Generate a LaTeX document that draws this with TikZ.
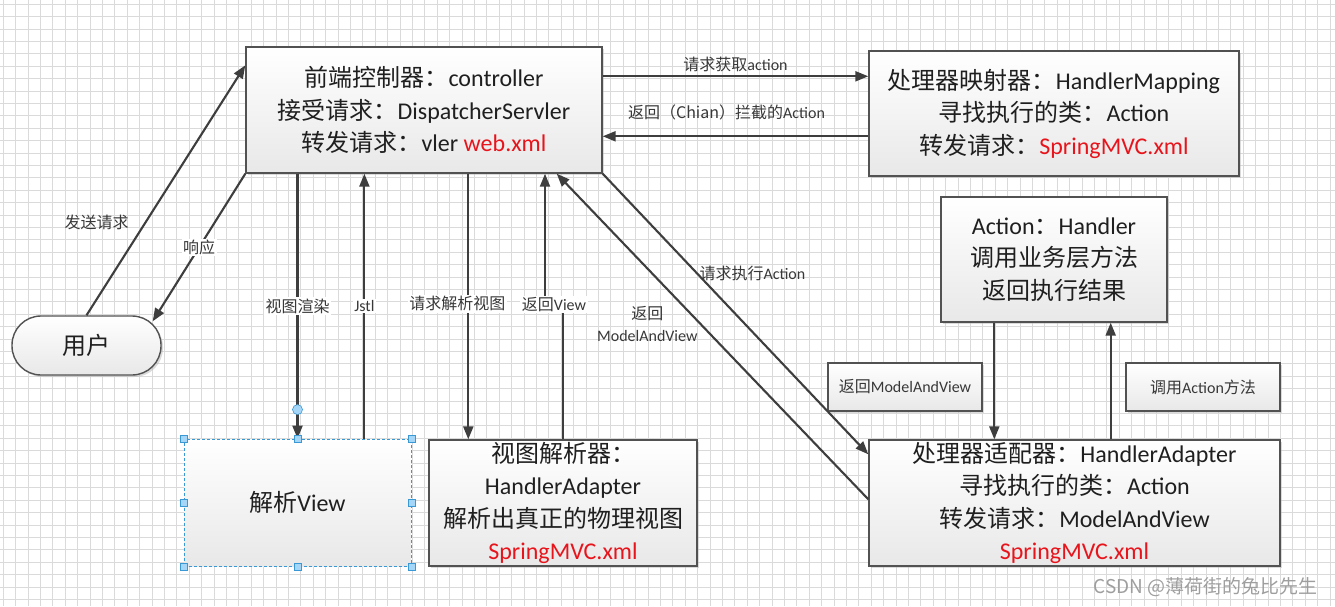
\documentclass[tikz,border=0pt]{standalone}
\usepackage{fontspec}
\setmainfont{Carlito}
\newfontfamily\cjk{Noto Sans CJK SC}
\usetikzlibrary{arrows.meta, shadows}

\newcommand{\zh}[1]{{\cjk #1}}
\definecolor{linegray}{HTML}{3E3E3E}
\definecolor{gridgray}{HTML}{DADADA}
\definecolor{selblue}{HTML}{3A98D4}
\definecolor{handleblue}{HTML}{A6D6F7}
\definecolor{xmlred}{HTML}{E8141C}

\begin{document}
\begin{tikzpicture}[x=1pt, y=-1pt, >={Triangle[length=13pt, width=10pt]},
	plain/.style={draw=black!68, line width=1.4pt, top color=white, bottom color=black!9,
		inner sep=0pt, align=center, text=black!88, font=\fontsize{24}{32.5}\selectfont},
	box/.style={plain, drop shadow={shadow xshift=2pt, shadow yshift=-2pt, fill=black!28}},
	tag/.style={box, line width=1.1pt, text=black!78, font=\fontsize{16}{20}\selectfont,
		minimum width=154pt, minimum height=48pt},
	flow/.style={draw=linegray, line width=2.1pt, ->},
	lbl/.style={fill=white, inner sep=1.5pt, text=black!78, font=\fontsize{16}{19}\selectfont},
	handle/.style={draw=selblue, fill=handleblue, line width=0.6pt, minimum size=7pt, inner sep=0pt}]

	\useasboundingbox (0,0) rectangle (1335,606);
	\fill[white] (0,0) rectangle (1335,606);
	\foreach \gx in {3,15.4,...,1335} \draw[gridgray, line width=0.6pt] (\gx,0) -- (\gx,606);
	\foreach \gy in {4,16.4,...,606} \draw[gridgray, line width=0.6pt] (0,\gy) -- (1335,\gy);

	\node[box, minimum width=356pt, minimum height=126pt] (fc) at (424,110)
		{\zh{前端控制器：}controller\\ \zh{接受请求：}DispatcherServler\\ \zh{转发请求：}vler \textcolor{xmlred}{web.xml}};
	\node[box, minimum width=370pt, minimum height=125pt] (hm) at (1054,113.5)
		{\zh{处理器映射器：}HandlerMapping\\ \zh{寻找执行的类：}Action\\ \zh{转发请求：}\textcolor{xmlred}{SpringMVC.xml}};
	\node[box, minimum width=226pt, minimum height=125pt] (act) at (1054,259.5)
		{Action\zh{：}Handler\\ \zh{调用业务层方法}\\ \zh{返回执行结果}};
	\node[box, minimum width=411pt, minimum height=126pt] (ha) at (1074.5,503)
		{\zh{处理器适配器：}HandlerAdapter\\ \zh{寻找执行的类：}Action\\ \zh{转发请求：}ModelAndView\\ \textcolor{xmlred}{SpringMVC.xml}};
	\node[box, minimum width=268pt, minimum height=126pt] (vr) at (563,503)
		{\zh{视图解析器：}\\ HandlerAdapter\\ \zh{解析出真正的物理视图}\\ \textcolor{xmlred}{SpringMVC.xml}};
	\node[plain, draw=selblue, line width=0.8pt, dash pattern=on 3pt off 2pt,
		minimum width=227pt, minimum height=127pt] (pv) at (297.5,502.5) {\zh{解析}View};
	\node[box, rounded corners=29pt, minimum width=149pt, minimum height=59pt] (user) at (86.5,345.5) {\zh{用户}};

	\node[tag] (tagmv) at (905,387) {\zh{返回}ModelAndView};
	\node[tag] (tagcall) at (1203,387) {\zh{调用}Action\zh{方法}};

	\coordinate (reqa) at ([yshift=-30pt]fc.north east);
	\coordinate (back) at ([yshift=-86pt]hm.north west);
	\coordinate (jstlb) at ([xshift=-47pt]pv.north east);
	\coordinate (askb) at ([xshift=40pt]vr.north west);
	\coordinate (viewt) at ([xshift=-18pt]vr.north);
	\coordinate (mvt) at ([xshift=-46pt]fc.south east);
	\coordinate (actl) at ([xshift=54pt]act.south west);
	\coordinate (callb) at ([xshift=-57pt]act.south east);

	\draw[flow] (user.north) -- node[lbl, fill=none, pos=0.37, left=14pt] {\zh{发送请求}} ([yshift=-19pt]fc.north west);
	\draw[flow] (fc.south west) -- node[lbl, pos=0.5] {\zh{响应}} ([xshift=-9pt, yshift=-6pt]user.north east);
	\draw[flow] (pv.north |- fc.south) -- node[lbl, pos=0.5] {\zh{视图渲染}} (pv.north);
	\draw[flow] (jstlb) -- node[lbl, pos=0.5] {Jstl} (jstlb |- fc.south);
	\draw[flow] (askb |- fc.south) -- node[lbl, pos=0.49, xshift=-11pt] {\zh{请求解析视图}} (askb);
	\draw[flow] (vr.north) -- ++(0,-135) node[lbl, xshift=-9pt] {\zh{返回}View} -| (viewt |- fc.south);
	\draw[flow] (reqa) -- node[lbl, fill=none, above=2pt] {\zh{请求获取}action} (reqa -| hm.west);
	\draw[flow] (back) -- node[lbl, fill=none, above=14pt, xshift=-9pt] {\zh{返回（Chian）拦截的}Action} (back -| fc.east);
	\draw[flow] (fc.south east) -- node[lbl, fill=none, pos=0.355, right] {\zh{请求执行}Action} ([yshift=-15pt]ha.north west);
	\draw[flow] ([yshift=-60pt]ha.north west) -- node[lbl, fill=none, pos=0.54, left, align=center,
		font=\fontsize{16}{22}\selectfont] {\zh{返回}\\ModelAndView} (mvt);
	\draw[flow] (actl) -- (actl |- ha.north);
	\draw[flow] (callb |- ha.north) -- (callb);

	% selection handles
	\foreach \a in {north west, north, north east, east, south east, south, south west, west}
		\node[handle] (h-\a) at (pv.\a) {};
	\node[handle, circle, minimum size=10pt] (glue) at ([yshift=29pt]pv.north) {};

	\node[anchor=east, text=black!38, font=\cjk\fontsize{19}{19}\selectfont] (mark) at (1321,587) {CSDN @薄荷街的兔比先生};

\end{tikzpicture}
\end{document}
